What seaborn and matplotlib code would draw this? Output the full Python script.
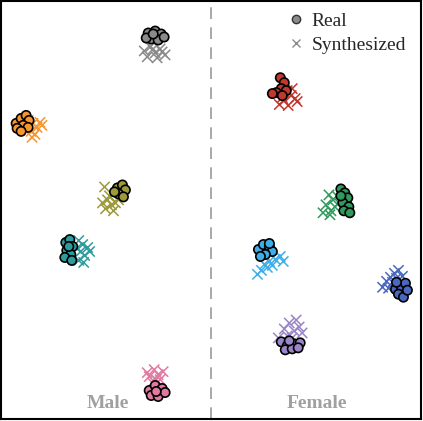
import matplotlib
matplotlib.use("Agg")
import matplotlib.pyplot as plt
from matplotlib.lines import Line2D
import seaborn as sns
import pandas as pd

sns.set_style("white")
plt.rcParams['font.family'] = ['Liberation Serif', 'DejaVu Serif']

# cluster names and colours (5 male groups, 5 female groups)
groups = ["m1", "m2", "m3", "m4", "m5", "f1", "f2", "f3", "f4", "f5"]
colors = ["#8a8a8a", "#f7962f", "#9c9a3c", "#2c9c9f", "#e07aa0",
          "#c0392f", "#2f9a5c", "#3daee6", "#4a68c0", "#9a86c6"]

# embedding coordinates (x to the right, y downward)
real_x = {
    "m1": [148, 155, 161, 151, 158, 146, 164, 153],
    "m2": [15, 20, 25, 28, 22, 16, 27, 20],
    "m3": [117, 122, 125, 118, 123, 114],
    "m4": [65, 69, 72, 66, 70, 64, 71, 68],
    "m5": [149, 155, 162, 151, 158, 165, 156],
    "f1": [281, 285, 282, 277, 287, 273, 283],
    "f2": [342, 346, 349, 344, 350, 345, 351, 342],
    "f3": [259, 264, 270, 273, 266, 261, 270],
    "f4": [397, 403, 407, 400, 405, 398, 409],
    "f5": [282, 288, 295, 301, 286, 293, 299, 290],
}
real_y = {
    "m1": [32, 30, 33, 38, 39, 37, 36, 33],
    "m2": [123, 118, 115, 120, 125, 128, 127, 131],
    "m3": [188, 185, 190, 194, 197, 192],
    "m4": [243, 240, 247, 251, 255, 258, 261, 247],
    "m5": [392, 387, 390, 397, 398, 394, 393],
    "f1": [77, 82, 88, 92, 90, 93, 95],
    "f2": [189, 193, 198, 203, 207, 211, 213, 196],
    "f3": [250, 245, 247, 252, 255, 257, 244],
    "f4": [290, 288, 284, 295, 298, 283, 291],
    "f5": [343, 347, 345, 344, 351, 350, 349, 342],
}
syn_x = {
    "m1": [144, 150, 155, 160, 165, 147, 157, 153, 162],
    "m2": [27, 32, 36, 30, 34, 39, 25, 41, 31],
    "m3": [104, 107, 111, 105, 115, 109, 113, 102, 118],
    "m4": [78, 82, 87, 80, 84, 78, 89, 83, 76],
    "m5": [149, 154, 158, 163, 156, 152, 160, 147],
    "f1": [288, 292, 285, 280, 296, 289, 293, 283, 298],
    "f2": [330, 334, 327, 332, 338, 336, 324, 340, 331],
    "f3": [265, 270, 276, 262, 268, 281, 273, 258, 284],
    "f4": [388, 392, 396, 384, 400, 394, 390, 398, 404],
    "f5": [285, 290, 295, 300, 288, 293, 303, 279, 297],
}
syn_y = {
    "m1": [50, 46, 52, 48, 54, 56, 57, 48, 51],
    "m2": [120, 123, 127, 131, 134, 122, 128, 125, 137],
    "m3": [187, 200, 205, 209, 203, 196, 211, 203, 200],
    "m4": [241, 245, 248, 252, 256, 261, 252, 263, 249],
    "m5": [378, 371, 376, 373, 381, 384, 381, 374],
    "f1": [90, 95, 100, 104, 98, 105, 88, 97, 101],
    "f2": [195, 200, 205, 211, 196, 207, 213, 203, 215],
    "f3": [265, 262, 260, 271, 268, 257, 266, 275, 262],
    "f4": [282, 278, 274, 288, 271, 283, 289, 279, 277],
    "f5": [330, 324, 332, 328, 337, 339, 334, 339, 321],
}

rows = []
for g in groups:
    for x, y in zip(real_x[g], real_y[g]):
        rows.append((g, "Real", x, y))
    for x, y in zip(syn_x[g], syn_y[g]):
        rows.append((g, "Synthesized", x, y))
df = pd.DataFrame(rows, columns=["group", "kind", "x", "y"])
palette = dict(zip(groups, colors))

fig = plt.figure(figsize=(4.23, 4.21), dpi=100)
ax = fig.add_axes([0.003, 0.004, 0.993, 0.993])

sns.scatterplot(data=df[df.kind == "Synthesized"], x="x", y="y", hue="group",
                palette=palette, marker="x", s=55, linewidth=1.1,
                legend=False, ax=ax)
sns.scatterplot(data=df[df.kind == "Real"], x="x", y="y", hue="group",
                palette=palette, marker="o", s=45, edgecolor="black",
                linewidth=1.2, legend=False, ax=ax)

ax.axvline(211, color="#999999", linestyle=(0, (7, 5)), linewidth=1.2)
ax.text(107, 405, "Male", color="#a0a0a0", fontsize=14, fontweight="bold",
        ha="center", va="center")
ax.text(318, 405, "Female", color="#a0a0a0", fontsize=14, fontweight="bold",
        ha="center", va="center")

handles = [
    Line2D([], [], marker="o", linestyle="", color="#8a8a8a",
           markeredgecolor="#333333", markersize=6, label="Real"),
    Line2D([], [], marker="x", linestyle="", color="#8a8a8a",
           markersize=6, label="Synthesized"),
]
ax.legend(handles=handles, loc="upper right", frameon=False, fontsize=14,
          handletextpad=0.3, labelspacing=0.35, borderaxespad=0.0,
          handlelength=1.0, bbox_to_anchor=(0.982, 0.993))

ax.set_xlim(0, 423)
ax.set_ylim(421, 0)
ax.set_xticks([])
ax.set_yticks([])
ax.set_xlabel("")
ax.set_ylabel("")
for sp in ax.spines.values():
    sp.set_color("black")
    sp.set_linewidth(1.5)

fig.savefig("out.png", dpi=100)
